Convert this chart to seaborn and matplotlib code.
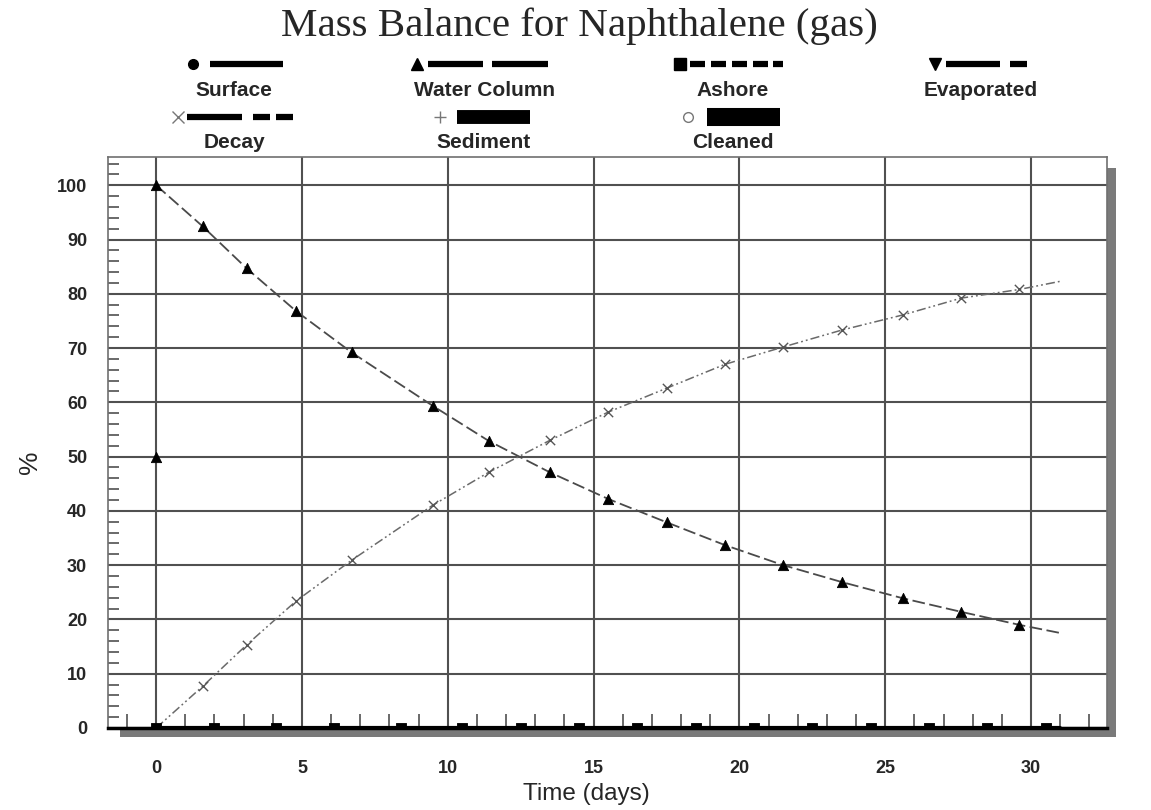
import seaborn as sns
import matplotlib.pyplot as plt
from matplotlib.lines import Line2D
from matplotlib.patches import Rectangle
from matplotlib.ticker import MultipleLocator

# ---- data ----
t_samples = [0, 1.6, 3.1, 4.8, 6.7, 9.5, 11.4, 13.5, 15.5, 17.5, 19.5, 21.5, 23.5, 25.6, 27.6, 29.6]
water_column = [100, 92.4, 84.7, 76.8, 69.2, 59.3, 52.9, 47.1, 42.2, 37.9, 33.7, 30.0, 26.9, 23.9, 21.4, 19.0]
decay = [0, 7.7, 15.3, 23.4, 30.9, 41.1, 47.1, 53.0, 58.2, 62.6, 67.0, 70.2, 73.3, 76.1, 79.2, 80.8]
# curves run a bit past the last marker
t_end = 31.0
water_column_end = 17.5
decay_end = 82.3
# lone marker at t=0
t_initial = [0]
water_column_initial = [50]
# series that stay at zero
t_zero = [0, 2.0, 4.1, 6.1, 8.4, 10.5, 12.5, 14.5, 16.5, 18.5, 20.5, 22.5, 24.5, 26.5, 28.5, 30.5]
ashore = [0, 0, 0, 0, 0, 0, 0, 0, 0, 0, 0, 0, 0, 0, 0, 0]
zero_line_t = [0, 31.0]
zero_line_v = [0, 0]

legend_names = ["Surface", "Water Column", "Ashore", "Evaporated", "Decay", "Sediment", "Cleaned"]

sns.set_style("white")
plt.rcParams['font.family'] = ['Liberation Sans', 'DejaVu Sans']

W, H = 1151, 810
fig = plt.figure(figsize=(W / 100, H / 100), dpi=100)


def fx(px):
    return px / W


def fy(py):
    return 1 - py / H


# drop shadow behind the plot frame
fig.patches.append(Rectangle((fx(120), fy(737)), fx(1116) - fx(120), fy(168) - fy(737),
                             transform=fig.transFigure, facecolor='#7a7a7a',
                             edgecolor='none', zorder=-1))

ax = fig.add_axes([fx(108), fy(728), fx(1107) - fx(108), fy(157) - fy(728)])
ax.set_facecolor('white')

grid_c = '#505050'

# zero series (surface, evaporated, sediment, cleaned)
sns.lineplot(x=zero_line_t, y=zero_line_v, ax=ax, color='black', linewidth=3, zorder=3)
sns.scatterplot(x=t_zero, y=ashore, ax=ax, marker='s', s=60, color='black',
                edgecolor='black', zorder=4)

# water column
sns.lineplot(x=t_samples + [t_end], y=water_column + [water_column_end], ax=ax,
             color='#4a4a4a', linewidth=1.3, linestyle=(0, (7, 2.5)), zorder=2)
sns.scatterplot(x=t_samples, y=water_column, ax=ax, marker='^', s=55, color='black',
                edgecolor='black', zorder=5)
sns.scatterplot(x=t_initial, y=water_column_initial, ax=ax, marker='^', s=55,
                color='black', edgecolor='black', zorder=5)

# decay
sns.lineplot(x=t_samples + [t_end], y=decay + [decay_end], ax=ax, color='#6a6a6a',
             linewidth=1.1, linestyle=(0, (6, 2, 1.2, 2, 1.2, 2)), zorder=2)
sns.scatterplot(x=t_samples[1:], y=decay[1:], ax=ax, marker='x', s=45, color='#555555',
                linewidth=1.0, zorder=5)

ax.set_xlim(-1.65, 32.6)
ax.set_ylim(0, 105.2)
ax.xaxis.set_major_locator(MultipleLocator(5))
ax.xaxis.set_minor_locator(MultipleLocator(1))
ax.yaxis.set_major_locator(MultipleLocator(10))
ax.yaxis.set_minor_locator(MultipleLocator(2))
ax.grid(True, which='major', color=grid_c, linewidth=1.5)
ax.tick_params(axis='x', which='major', direction='out', length=13, width=1.5,
               color=grid_c, pad=10, labelsize=13)
ax.tick_params(axis='y', which='major', direction='out', length=6, width=1.5,
               color=grid_c, pad=9, labelsize=13)
ax.tick_params(axis='x', which='minor', direction='in', length=10, width=1.2,
               color=grid_c, bottom=True)
ax.tick_params(axis='y', which='minor', direction='in', length=8, width=1.2,
               color=grid_c, left=True)
for lab in ax.get_xticklabels() + ax.get_yticklabels():
    lab.set_fontweight('bold')

for side in ['left', 'top', 'right']:
    ax.spines[side].set_color('#707070')
    ax.spines[side].set_linewidth(1.2)
ax.spines['bottom'].set_color('black')
ax.spines['bottom'].set_linewidth(2.5)
ax.set_xlabel('')
ax.set_ylabel('')

# title and axis labels
fig.text(fx(579), fy(26), 'Mass Balance for Naphthalene (gas)', ha='center', va='center',
         fontsize=29.5, family=['Liberation Serif', 'DejaVu Serif'])
fig.text(fx(586), fy(794), 'Time (days)', ha='center', va='center', fontsize=17.5)
fig.text(fx(30), fy(462), '%', ha='center', va='center', fontsize=19, rotation=90)

# hand-built legend above the plot: symbol + line sample, label underneath
legend_specs = [
    # marker, marker x, marker style kwargs, line segments, line width, line color, row y, label x
    ('o', 193, dict(ms=7, mfc='black', mec='black'), [(210, 283)], 4.5, 'black', 64, 234),
    ('^', 417, dict(ms=8, mfc='black', mec='black'), [(428, 483), (492, 548)], 4.5, 'black', 64, 484),
    ('s', 680, dict(ms=8, mfc='black', mec='black'),
     [(690, 705), (711, 726), (732, 747), (753, 768), (773, 783)], 4.5, 'black', 64, 733),
    ('v', 935, dict(ms=8, mfc='black', mec='black'), [(946, 1000), (1010, 1027)], 4.5, 'black', 64, 981),
    ('x', 178, dict(ms=9, mfc='none', mec='#777777', mew=1.0),
     [(187, 242), (253, 270), (276, 293)], 4.5, 'black', 117, 234),
    ('+', 440, dict(ms=9, mfc='none', mec='#777777', mew=1.0), [(457, 530)], 10, 'black', 117, 484),
    ('o', 688, dict(ms=7, mfc='white', mec='#777777', mew=1.0), [(707, 780)], 13, 'black', 117, 733),
]
for name, (mk, mx, mkw, segs, lw, lc, ry, lx) in zip(legend_names, legend_specs):
    fig.add_artist(Line2D([fx(mx)], [fy(ry)], marker=mk, linestyle='none',
                          transform=fig.transFigure, **mkw))
    for x0, x1 in segs:
        fig.add_artist(Line2D([fx(x0), fx(x1)], [fy(ry), fy(ry)], color=lc, linewidth=lw,
                              solid_capstyle='butt', transform=fig.transFigure))
    fig.text(fx(lx), fy(ry + 26), name, ha='center', va='center', fontsize=15,
             fontweight='bold')

fig.savefig('out.png', dpi=100)
